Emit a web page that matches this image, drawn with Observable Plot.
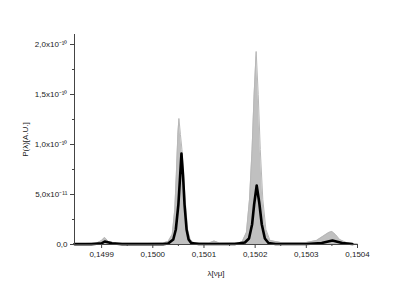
<!DOCTYPE html>
<html><head><meta charset="utf-8">
<script src="https://cdn.jsdelivr.net/npm/d3@7"></script>
<script src="https://cdn.jsdelivr.net/npm/@observablehq/plot@0.6"></script>
<style>
html,body{margin:0;padding:0;background:#fff;}
svg, svg text{font-family:"Liberation Sans",Arial,sans-serif !important;}
</style>
</head><body>
<div id="chart"></div>
<script>
// wavelength (νμ) and power in units of 1e-10 A.U.
const blackX = [0.149847,0.14988,0.14990,0.149906,0.14992,0.14994,0.14998,0.15002,0.15003,0.150040,0.150045,0.150050,0.150053,0.150056,0.150059,0.150062,0.150066,0.150070,0.150075,0.15009,0.15012,0.15016,0.15018,0.150188,0.150194,0.150198,0.150203,0.150208,0.150213,0.150219,0.150226,0.15024,0.15030,0.15033,0.150351,0.15037,0.15039];
const blackY = [0.004,0.004,0.012,0.030,0.012,0.004,0.004,0.004,0.010,0.05,0.15,0.40,0.65,0.91,0.70,0.40,0.15,0.05,0.015,0.005,0.005,0.005,0.02,0.06,0.20,0.40,0.59,0.42,0.20,0.06,0.015,0.005,0.005,0.015,0.04,0.015,0.005];
const grayX = [0.149847,0.14989,0.14990,0.149906,0.149913,0.14993,0.14999,0.15002,0.150030,0.150038,0.150043,0.150046,0.150049,0.150051,0.150054,0.150057,0.150060,0.150064,0.150068,0.150073,0.15008,0.15011,0.15012,0.15013,0.15017,0.150175,0.150183,0.150189,0.150194,0.150198,0.150202,0.150206,0.150210,0.150215,0.150221,0.150229,0.15025,0.15030,0.15032,0.150335,0.150344,0.150350,0.150357,0.150365,0.15038,0.15040];
const grayY = [0.008,0.012,0.04,0.07,0.03,0.012,0.012,0.015,0.03,0.10,0.35,0.70,1.10,1.26,1.10,0.95,0.70,0.40,0.15,0.05,0.02,0.015,0.035,0.015,0.02,0.03,0.12,0.45,0.95,1.50,1.93,1.50,0.95,0.45,0.15,0.04,0.02,0.02,0.04,0.09,0.12,0.13,0.10,0.05,0.015,0.005];
const xTicks = [0.1499,0.1500,0.1501,0.1502,0.1503,0.1504];
const xTickLabels = ["0,1499","0,1500","0,1501","0,1502","0,1503","0,1504"];
const xMinor = [0.14995,0.15005,0.15015,0.15025,0.15035];
const yTicks = [0,0.5,1.0,1.5,2.0];
const yTickLabels = ["0,0","5,0x10\u207B\u00B9\u00B9","1,0x10\u207B\u00B9\u2070","1,5x10\u207B\u00B9\u2070","2,0x10\u207B\u00B9\u2070"];
const yMinor = [0.25,0.75,1.25,1.75];

const black = blackX.map((x,i)=>({x, y:blackY[i]}));
const gray = grayX.map((x,i)=>({x, y:grayY[i]}));
const axisColor = "#444";

const chart = Plot.plot({
  width: 415, height: 294,
  marginLeft: 74, marginRight: 58, marginTop: 34, marginBottom: 50,
  style: {fontSize: "8px", fontFamily: "'Liberation Sans', Arial, sans-serif", color:"#222"},
  x: {domain: [0.149847, 0.1504]},
  y: {domain: [0, 2.1]},
  marks: [
    Plot.areaY(gray, {x:"x", y:"y", fill:"#c0c0c0"}),
    Plot.line(gray, {x:"x", y:"y", stroke:"#b8b8b8", strokeWidth:1}),
    Plot.line(black, {x:"x", y:"y", stroke:"#000", strokeWidth:2.6, strokeLinejoin:"round"}),
    Plot.ruleX([0.149847], {stroke: axisColor}),
    Plot.ruleY([0], {stroke: axisColor}),
    Plot.axisX({ticks: xTicks, tickSize: 4, tickPadding: 3, stroke: axisColor, tickFormat: (d) => xTickLabels[xTicks.indexOf(d)],
      label: "λ[νμ]", labelAnchor: "center", labelArrow: "none", labelOffset: 31}),
    Plot.axisX({ticks: xMinor, tickSize: 2, text: null, label: null, stroke: axisColor}),
    Plot.axisY({ticks: yTicks, tickSize: 4, tickPadding: 3, stroke: axisColor, tickFormat: (d) => yTickLabels[yTicks.indexOf(d)],
      label: "P(λ)[A.U.]", labelAnchor: "center", labelArrow: "none", labelOffset: 52}),
    Plot.axisY({ticks: yMinor, tickSize: 2, text: null, label: null, stroke: axisColor})
  ]
});
document.getElementById("chart").appendChild(chart);
</script>
</body></html>
